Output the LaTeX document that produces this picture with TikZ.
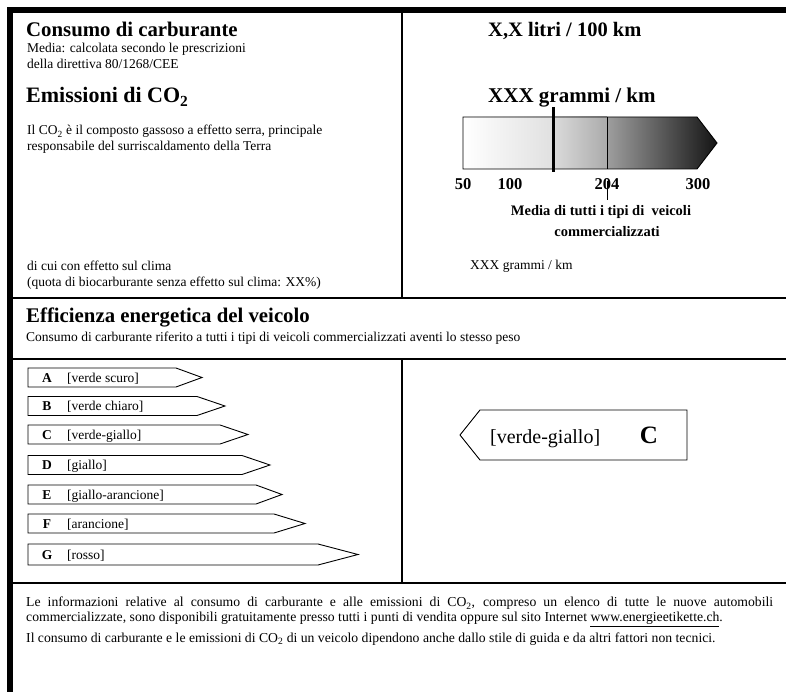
\documentclass[tikz,border=0pt]{standalone}
\usepackage{fontspec}
\setmainfont{Liberation Serif}
\usetikzlibrary{positioning, calc}

\newcommand{\headfont}{\fontsize{20.8}{24}\selectfont\bfseries}
\newcommand{\notefont}{\fontsize{13.5}{16}\selectfont}
\newcommand{\rowfont}{\fontsize{13.5}{16}\selectfont}

\begin{document}
\begin{tikzpicture}[x=1pt, y=-1pt,
        txt/.style={inner sep=0pt, anchor=base west},
        num/.style={inner sep=0pt, anchor=base, font=\fontsize{16.5}{18}\selectfont\bfseries},
        klasse/.style={draw, line width=0.9pt, fill=white},
        rule/.style={line width=2.4pt}]
    \useasboundingbox (0,0) rectangle (786,692);

    % frame and rules
    \draw[line width=5.5pt] (786,10) -- (10,10) -- (10,692);
    \draw[rule] (10,298) -- (786,298);
    \draw[rule] (10,359) -- (786,359);
    \draw[rule] (10,583) -- (786,583);
    \draw[rule] (402,10) -- (402,298);
    \draw[rule] (402,359) -- (402,583);

    % consumo / emissioni
    \node[txt, font=\headfont] (cons) at (26,37) {Consumo di carburante};
    \node[txt, font=\notefont] (media) at (27,53) {Media: calcolata secondo le prescrizioni};
    \node[txt, font=\notefont] (dir) at (27,69) {della direttiva 80/1268/CEE};
    \node[txt, font=\fontsize{22}{26}\selectfont\bfseries] (emis) at (26,103) {Emissioni di CO\textsubscript{2}};
    \node[txt, font=\notefont] (co2a) at (27,135) {Il CO\textsubscript{2} è il composto gassoso a effetto serra, principale};
    \node[txt, font=\notefont] (co2b) at (27,151) {responsabile del surriscaldamento della Terra};
    \node[txt, font=\notefont] (clima) at (27,271) {di cui con effetto sul clima};
    \node[txt, font=\notefont] (quota) at (27,287) {(quota di biocarburante senza effetto sul clima: XX\%)};

    \node[txt, font=\fontsize{20.5}{24}\selectfont\bfseries] (litri) at (488,37) {X,X litri / 100 km};
    \node[txt, font=\fontsize{21}{24}\selectfont\bfseries] (gram) at (488,103) {XXX grammi / km};

    % scala CO2
    \shade[left color=white, right color=black!12] (463,117) rectangle (553,169);
    \shade[left color=black!14, right color=black!33] (553,117) rectangle (607,169);
    \shade[left color=black!38, right color=black!92] (607,117) -- (697,117) -- (717,143) -- (697,169) -- (607,169) -- cycle;
    \draw[line width=0.9pt] (463,117) -- (697,117) -- (717,143) -- (697,169) -- (463,169) -- cycle;
    \draw[line width=0.8pt] (607,117) -- (607,169);
    \draw[line width=3pt] (553,107) -- (553,172);
    \node[num] (n50) at (463,190) {50};
    \node[num] (n100) at (510,190) {100};
    \node[num] (n204) at (607,190) {204};
    \node[num] (n300) at (698,190) {300};
    \draw[line width=0.8pt] (607,181) -- (607,200);
    \node[inner sep=0pt, anchor=base, font=\fontsize{14.5}{18}\selectfont\bfseries] (avgA) at (601,216) {Media di tutti i tipi di \ veicoli};
    \node[inner sep=0pt, anchor=base, font=\fontsize{14.5}{18}\selectfont\bfseries] (avgB) at (607,237) {commercializzati};
    \node[txt, font=\fontsize{13.5}{16}\selectfont] (gramB) at (470,270) {XXX grammi / km};

    % efficienza
    \node[txt, font=\headfont] (eff) at (26,322) {Efficienza energetica del veicolo};
    \node[txt, font=\notefont] (peso) at (26,341) {Consumo di carburante riferito a tutti i tipi di veicoli commercializzati aventi lo stesso peso};

    \draw[klasse] (28,368) -- (176,368) -- (202,377.5) -- (176,387) -- (28,387) -- cycle;
    \draw[klasse] (28,396.5) -- (197,396.5) -- (225,406) -- (197,415.5) -- (28,415.5) -- cycle;
    \draw[klasse] (28,425) -- (220,425) -- (248,434.5) -- (220,444) -- (28,444) -- cycle;
    \draw[klasse] (28,455.5) -- (242,455.5) -- (270,465) -- (242,474.5) -- (28,474.5) -- cycle;
    \draw[klasse] (28,485) -- (256,485) -- (282,494.5) -- (256,504) -- (28,504) -- cycle;
    \draw[klasse] (28,514) -- (274,514) -- (305,523.5) -- (274,533) -- (28,533) -- cycle;
    \draw[klasse] (28,544) -- (318,544) -- (358,554.5) -- (318,565) -- (28,565) -- cycle;
    \node[inner sep=0pt, anchor=base, font=\rowfont\bfseries] (kA) at (47,382) {A};
    \node[inner sep=0pt, anchor=base, font=\rowfont\bfseries] (kB) at (47,410.5) {B};
    \node[inner sep=0pt, anchor=base, font=\rowfont\bfseries] (kC) at (47,439) {C};
    \node[inner sep=0pt, anchor=base, font=\rowfont\bfseries] (kD) at (47,469.5) {D};
    \node[inner sep=0pt, anchor=base, font=\rowfont\bfseries] (kE) at (47,499) {E};
    \node[inner sep=0pt, anchor=base, font=\rowfont\bfseries] (kF) at (47,528) {F};
    \node[inner sep=0pt, anchor=base, font=\rowfont\bfseries] (kG) at (47,559) {G};
    \node[txt, font=\rowfont] (lA) at (67,382) {[verde scuro]};
    \node[txt, font=\rowfont] (lB) at (67,410.5) {[verde chiaro]};
    \node[txt, font=\rowfont] (lC) at (67,439) {[verde-giallo]};
    \node[txt, font=\rowfont] (lD) at (67,469.5) {[giallo]};
    \node[txt, font=\rowfont] (lE) at (67,499) {[giallo-arancione]};
    \node[txt, font=\rowfont] (lF) at (67,528) {[arancione]};
    \node[txt, font=\rowfont] (lG) at (67,559) {[rosso]};

    % classe del veicolo
    \draw[klasse] (460,435) -- (480,410) -- (687,410) -- (687,460) -- (480,460) -- cycle;
    \node[txt, font=\fontsize{20}{24}\selectfont] (sel) at (490,443) {[verde-giallo]};
    \node[inner sep=0pt, anchor=base, font=\fontsize{25}{28}\selectfont\bfseries] (selC) at (649,443) {C};

    % note
    \node[inner sep=0pt, anchor=north west, text width=747pt, align=justify, font=\fontsize{13.7}{14.5}\selectfont] (info) at (26,597)
        {Le informazioni relative al consumo di carburante e alle emissioni di CO\textsubscript{2}, compreso un elenco di tutte le nuove automobili\linebreak
        commercializzate, sono disponibili gratuitamente presso tutti i punti di vendita oppure sul sito Internet \underline{www.energieetikette.ch}.};
    \node[txt, font=\fontsize{13.7}{14.5}\selectfont] (stile) at (26,642) {Il consumo di carburante e le emissioni di CO\textsubscript{2} di un veicolo dipendono anche dallo stile di guida e da altri fattori non tecnici.};
\end{tikzpicture}
\end{document}
